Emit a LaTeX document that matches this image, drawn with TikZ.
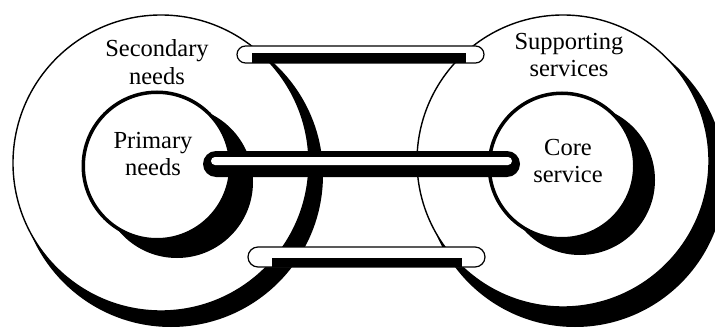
\documentclass[tikz,border=0pt]{standalone}
\usepackage{fontspec}
\setmainfont{Liberation Serif}
\begin{document}
\begin{tikzpicture}[x=1pt, y=-1pt,
    disk/.style={circle, draw, fill=white, inner sep=0pt, outer sep=0pt},
    outerdisk/.style={disk, line width=1.4pt},
    innerdisk/.style={disk, line width=3.5pt},
    shade/.style={fill=black},
    tube/.style={draw, line width=1.2pt, fill=white},
    lbl/.style={font=\fontsize{24.5}{27.5}\selectfont, align=center, inner sep=0pt}
]
\useasboundingbox (0,0) rectangle (715,329);

% ═══════════════════════════════════════════════════════════════
% Outer rings: secondary needs / supporting services
% ═══════════════════════════════════════════════════════════════
\fill[shade] (171,175) circle[radius=152pt];
\fill[shade] (575,177) circle[radius=150pt];
\node[outerdisk, minimum size=296pt] (secondary) at (161,163) {};
\node[outerdisk, minimum size=292pt] (supporting) at (563,161) {};

% ═══════════════════════════════════════════════════════════════
% Inner rings: primary needs / core service
% ═══════════════════════════════════════════════════════════════
\fill[shade] (177,182) circle[radius=76pt];
\fill[shade] (580,180) circle[radius=75pt];
\node[innerdisk, minimum size=147.5pt] (primary) at (157,166) {};
\node[innerdisk, minimum size=145.5pt] (core) at (562,166) {};

% Top and bottom tubes (outer link)
\draw[tube, rounded corners=8.5pt] (237,46) rectangle (484,63);
\fill[shade] (252,53.5) rectangle (466,63);
\draw[tube, rounded corners=10pt] (248,247) rectangle (485,267);
\fill[shade] (272,257.5) rectangle (462,267);

% Middle tube (inner link)
\fill[shade, rounded corners=13pt] (203,151) rectangle (520,177);
\fill[white, rounded corners=4pt] (211,157) rectangle (512,165);

% Labels
\node[lbl] (secLabel) at (157,62) {Secondary\\needs};
\node[lbl] (primLabel) at (153,154) {Primary\\needs};
\node[lbl] (supLabel) at (569,55) {Supporting\\services};
\node[lbl] (coreLabel) at (568,161) {Core\\service};

\end{tikzpicture}
\end{document}
